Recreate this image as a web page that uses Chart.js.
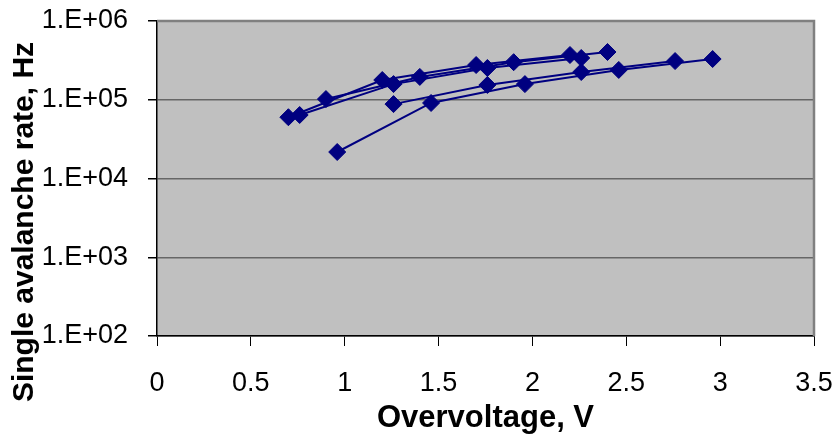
<!DOCTYPE html>
<html>
<head>
<meta charset="utf-8">
<script src="https://cdn.jsdelivr.net/npm/chart.js@4.4.0/dist/chart.umd.min.js"></script>
<style>
  html, body { margin: 0; padding: 0; background: #fff; }
  canvas { display: block; }
</style>
</head>
<body>
<canvas id="myChart" width="839" height="434"></canvas>
<script>
// overvoltage (V) and single avalanche rate (Hz), one pair of arrays per run
const xRun1 = [0.7, 1.2, 1.7, 2.2];
const yRun1 = [6.0e4, 1.78e5, 2.76e5, 3.7e5];
const xRun2 = [0.76, 1.26, 1.76, 2.26];
const yRun2 = [6.4e4, 1.58e5, 2.53e5, 3.39e5];
const xRun3 = [0.9, 1.4, 1.9, 2.4];
const yRun3 = [1.02e5, 1.95e5, 3.0e5, 4.04e5];
const xRun4 = [0.96, 1.46, 1.96, 2.46, 2.96];
const yRun4 = [2.17e4, 9.1e4, 1.58e5, 2.39e5, 3.29e5];
const xRun5 = [1.26, 1.76, 2.26, 2.76];
const yRun5 = [8.8e4, 1.54e5, 2.25e5, 3.1e5];

const yTickValues = [1e2, 1e3, 1e4, 1e5, 1e6];
const yTickLabels = ["1.E+02", "1.E+03", "1.E+04", "1.E+05", "1.E+06"];
const xTickValues = [0, 0.5, 1, 1.5, 2, 2.5, 3, 3.5];
const xTickLabels = ["0", "0.5", "1", "1.5", "2", "2.5", "3", "3.5"];

const navy = "#000080";
const fontFamily = "Arial, 'Liberation Sans', sans-serif";

const makeSet = (xs, ys) => ({
  data: xs.map((x, i) => ({ x: x, y: ys[i] })),
  borderColor: navy,
  backgroundColor: navy,
  borderWidth: 2,
  pointStyle: "rectRot",
  pointRadius: 8.5,
  pointBorderWidth: 1,
  pointBackgroundColor: navy,
  pointBorderColor: navy,
  tension: 0,
});

// grey plot area with the excel style frame
const plotFrame = {
  id: "plotFrame",
  beforeDraw(chart) {
    const { ctx, chartArea: a } = chart;
    ctx.save();
    ctx.fillStyle = "#c0c0c0";
    ctx.fillRect(a.left, a.top, a.right - a.left, a.bottom - a.top);
    ctx.restore();
  },
  beforeDatasetsDraw(chart) {
    const { ctx, chartArea: a } = chart;
    ctx.save();
    ctx.strokeStyle = "#808080";
    ctx.lineWidth = 2.5;
    ctx.beginPath();
    ctx.moveTo(a.left, a.top);
    ctx.lineTo(a.right, a.top);
    ctx.lineTo(a.right, a.bottom);
    ctx.stroke();
    ctx.restore();
  },
  afterDraw(chart) {
    const ctx = chart.ctx;
    ctx.save();
    ctx.translate(25, 222);
    ctx.rotate(-Math.PI / 2);
    ctx.font = "bold 30px " + fontFamily;
    ctx.fillStyle = "#000";
    ctx.textAlign = "center";
    ctx.textBaseline = "middle";
    ctx.fillText("Single avalanche rate, Hz", 0, 0);
    ctx.restore();
  },
};

// keep the plot box exactly where the layout padding puts it
const noPad = (scale) => {
  scale.paddingTop = 0;
  scale.paddingBottom = 0;
  scale.paddingLeft = 0;
  scale.paddingRight = 0;
};

const ctx = document.getElementById("myChart").getContext("2d");
const myChart = new Chart(ctx, {
  type: "line",
  data: {
    datasets: [
      makeSet(xRun1, yRun1),
      makeSet(xRun2, yRun2),
      makeSet(xRun3, yRun3),
      makeSet(xRun4, yRun4),
      makeSet(xRun5, yRun5),
    ],
  },
  options: {
    responsive: false,
    animation: false,
    layout: { padding: { left: 0, right: 25, top: 21, bottom: 0 } },
    plugins: { legend: { display: false }, tooltip: { enabled: false } },
    scales: {
      x: {
        type: "linear",
        min: 0,
        max: 3.5,
        afterFit: (scale) => { scale.height = 98; noPad(scale); },
        afterBuildTicks: (scale) => {
          scale.ticks = xTickValues.map((v) => ({ value: v }));
        },
        ticks: {
          color: "#000",
          font: { family: fontFamily, size: 27 },
          padding: 21,
          maxRotation: 0,
          callback: (v) => xTickLabels[xTickValues.indexOf(v)],
        },
        grid: {
          drawOnChartArea: false,
          tickLength: 10,
          tickColor: "#000",
        },
        border: { color: "#000", width: 1.5 },
        title: {
          display: true,
          text: "Overvoltage, V",
          color: "#000",
          font: { family: fontFamily, size: 31, weight: "bold", lineHeight: 1.0 },
          padding: { top: 0, bottom: 0 },
        },
      },
      y: {
        type: "logarithmic",
        min: 100,
        max: 1e6,
        afterFit: (scale) => { scale.width = 157; noPad(scale); },
        afterBuildTicks: (scale) => {
          scale.ticks = yTickValues.map((v) => ({ value: v }));
        },
        ticks: {
          color: "#000",
          font: { family: fontFamily, size: 27 },
          padding: 20,
          callback: (v) => yTickLabels[yTickValues.indexOf(v)],
        },
        grid: {
          color: "#666666",
          lineWidth: 1.5,
          tickLength: 9,
          tickColor: "#000",
        },
        border: { color: "#000", width: 1.5 },
      },
    },
  },
  plugins: [plotFrame],
});
</script>
</body>
</html>
